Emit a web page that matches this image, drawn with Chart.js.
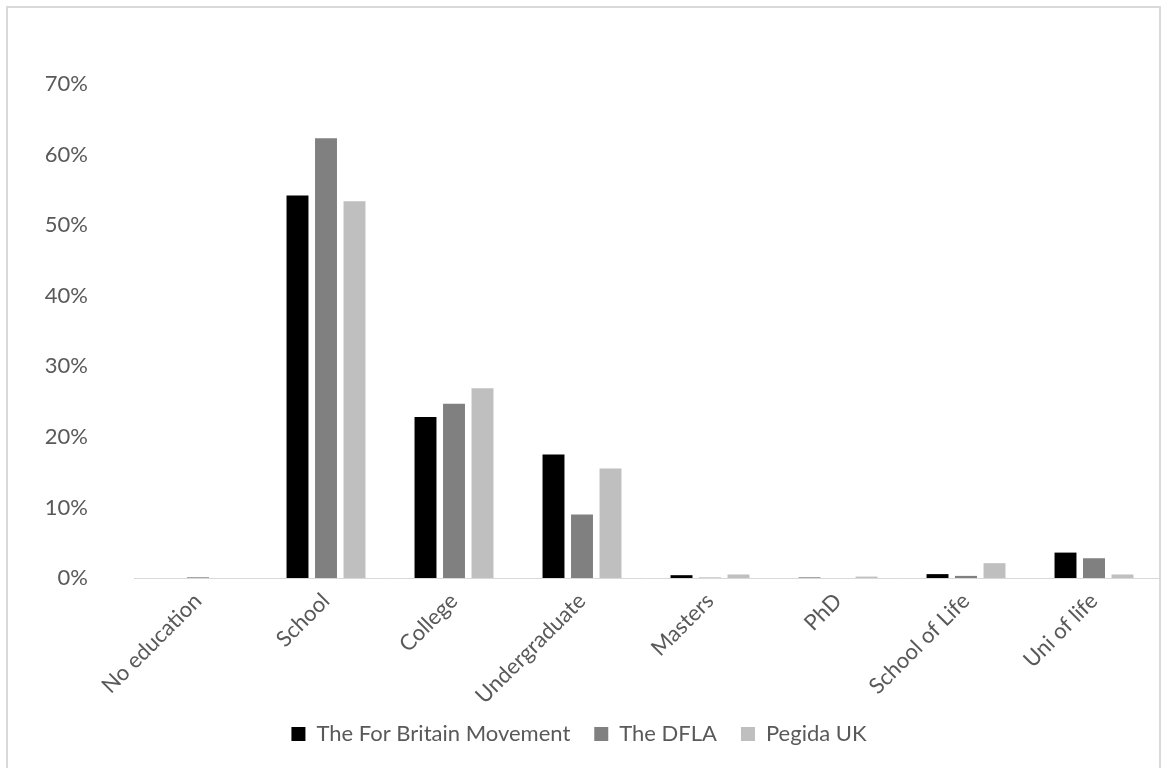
<!DOCTYPE html>
<html lang="en">
<head>
    <meta charset="UTF-8">
    <title>Education levels by group</title>
    <script src="https://cdn.jsdelivr.net/npm/chart.js"></script>
    <style>
        body { margin: 0; background: #fff; }
        .wrap { position: relative; width: 1162px; height: 768px; overflow: hidden; }
        #eduChart { position: absolute; left: 0; top: 0; }
        .frame {
            position: absolute; left: 6px; top: 6px; width: 1151px; height: 800px;
            border: 2px solid #d9d9d9; pointer-events: none;
        }
    </style>
</head>
<body>
<div class="wrap">
    <canvas id="eduChart" width="1162" height="768"></canvas>
    <div class="frame"></div>
</div>
<script>
    // Education level shares (%) per group
    const categories = ['No education', 'School', 'College', 'Undergraduate', 'Masters', 'PhD', 'School of Life', 'Uni of life'];
    const forBritain = [0, 54.2, 22.8, 17.5, 0.4, 0.05, 0.55, 3.6];
    const dfla = [0.1, 62.3, 24.7, 9.0, 0.05, 0, 0.3, 2.8];
    const pegida = [0, 53.4, 26.9, 15.5, 0.5, 0.2, 2.1, 0.5];
    const yTicks = [0, 10, 20, 30, 40, 50, 60, 70];

    const textColor = '#595959';
    const fontFamily = 'Lato, "Open Sans", sans-serif';
    const fontSize = 22;

    Chart.defaults.font.family = fontFamily;
    Chart.defaults.font.size = fontSize;
    Chart.defaults.color = textColor;

    // the x axis box is kept short so the legend sits close to the plot;
    // stretch its bottom afterwards so the rotated labels aren't clipped
    const unclipXLabels = {
        id: 'unclipXLabels',
        afterLayout(chart) {
            chart.scales.x.bottom = chart.height;
        }
    };

    const ctx = document.getElementById('eduChart').getContext('2d');
    new Chart(ctx, {
        type: 'bar',
        data: {
            labels: categories,
            datasets: [
                { label: 'The For Britain Movement', data: forBritain, backgroundColor: '#000000' },
                { label: 'The DFLA', data: dfla, backgroundColor: '#808080' },
                { label: 'Pegida UK', data: pegida, backgroundColor: '#bfbfbf' }
            ]
        },
        options: {
            responsive: false,
            animation: false,
            categoryPercentage: 0.668,
            barPercentage: 0.77,
            layout: { padding: { top: 84, right: 4, bottom: 13, left: 0 } },
            scales: {
                x: {
                    grid: { display: false },
                    border: { display: true, color: '#d9d9d9', width: 1 },
                    ticks: { color: textColor, maxRotation: 45, minRotation: 45, padding: 2, autoSkip: false },
                    afterFit: function(scale) { scale.height = 121; }
                },
                y: {
                    min: 0,
                    max: 70,
                    grid: { display: false },
                    border: { display: false },
                    afterBuildTicks: function(scale) {
                        scale.ticks = yTicks.map(v => ({ value: v }));
                    },
                    ticks: {
                        color: textColor,
                        padding: 38,
                        callback: function(value) { return value + '%'; }
                    },
                    afterFit: function(scale) { scale.width = 134; }
                }
            },
            plugins: {
                legend: {
                    position: 'bottom',
                    labels: { boxWidth: 14, boxHeight: 14, padding: 24, color: textColor }
                },
                tooltip: { enabled: false }
            }
        },
        plugins: [unclipXLabels]
    });
</script>
</body>
</html>
